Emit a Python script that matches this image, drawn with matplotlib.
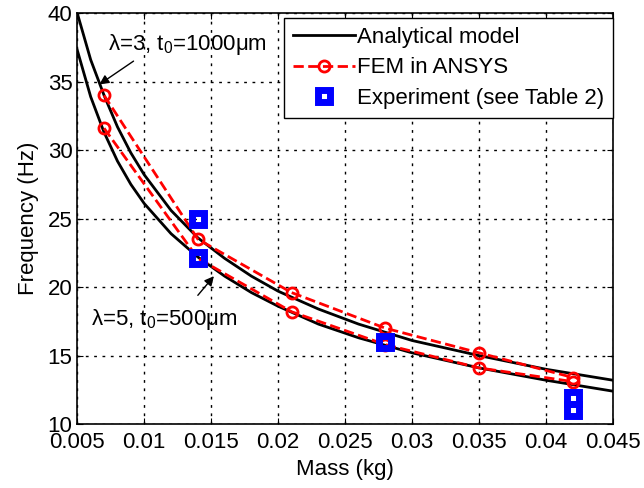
import matplotlib
matplotlib.use("Agg")
import matplotlib.pyplot as plt

plt.rcParams['font.family'] = ['Liberation Sans', 'DejaVu Sans']
plt.rcParams['mathtext.fontset'] = 'custom'
plt.rcParams['mathtext.rm'] = 'Liberation Sans'
plt.rcParams['mathtext.it'] = 'Liberation Sans'

# Analytical model curves (frequency vs. proof mass)
mass_model = [0.005, 0.006, 0.007, 0.008, 0.009, 0.010, 0.012, 0.014, 0.016,
              0.018, 0.020, 0.023, 0.026, 0.030, 0.035, 0.040, 0.045]
freq_model_l3 = [40.0, 36.6, 34.0, 31.7, 29.8, 28.2, 25.6, 23.6, 22.1,
                 20.8, 19.7, 18.4, 17.3, 16.1, 15.0, 14.0, 13.2]
freq_model_l5 = [37.3, 33.9, 31.3, 29.2, 27.5, 26.1, 23.9, 22.2, 20.8,
                 19.6, 18.6, 17.3, 16.3, 15.2, 14.1, 13.2, 12.4]

# FEM results
mass_fem = [0.007, 0.014, 0.021, 0.028, 0.035, 0.042]
freq_fem_l3 = [34.0, 23.5, 19.6, 17.0, 15.2, 13.4]
freq_fem_l5 = [31.6, 22.1, 18.2, 15.8, 14.1, 13.1]

# Experimental measurements
mass_exp = [0.014, 0.014, 0.028, 0.042, 0.042]
freq_exp = [25.0, 22.1, 16.0, 11.9, 11.0]

fs = 16

fig = plt.figure(figsize=(6.44, 4.88), dpi=100)
ax = fig.add_axes([0.12, 0.131, 0.832, 0.842])

ax.plot(mass_model, freq_model_l3, color='black', linewidth=2, label='Analytical model')
ax.plot(mass_model, freq_model_l5, color='black', linewidth=2)
ax.plot(mass_fem, freq_fem_l3, '--o', color='red', linewidth=2, markersize=8,
        markerfacecolor='none', markeredgewidth=2, label='FEM in ANSYS')
ax.plot(mass_fem, freq_fem_l5, '--o', color='red', linewidth=2, markersize=8,
        markerfacecolor='none', markeredgewidth=2)
ax.plot(mass_exp, freq_exp, 's', color='blue', markersize=8.5, markerfacecolor='none',
        markeredgewidth=5, linestyle='none', label='Experiment (see Table 2)')

# curve labels with pointer arrows
arrow = dict(arrowstyle='-|>', color='black', lw=1, shrinkA=0, shrinkB=0, mutation_scale=14)
ax.text(0.0073, 37.7, r'$\lambda$=3, t$_0$=1000$\mu$m', fontsize=fs, va='center')
ax.annotate('', xy=(0.00665, 34.8), xytext=(0.0092, 36.5), arrowprops=arrow)
ax.text(0.0060, 17.6, r'$\lambda$=5, t$_0$=500$\mu$m', fontsize=fs, va='center')
ax.annotate('', xy=(0.0152, 20.8), xytext=(0.0140, 19.4), arrowprops=arrow)

ax.set_xlim(0.005, 0.045)
ax.set_ylim(10, 40)
ax.set_xticks([0.005, 0.01, 0.015, 0.02, 0.025, 0.03, 0.035, 0.04, 0.045])
ax.set_xticklabels(['0.005', '0.01', '0.015', '0.02', '0.025', '0.03', '0.035', '0.04', '0.045'])
ax.set_yticks([10, 15, 20, 25, 30, 35, 40])
ax.tick_params(direction='in', labelsize=fs, top=True, right=True, length=4)
ax.tick_params(axis='x', pad=6)
ax.grid(True, linestyle=(0, (2, 4)), color='black', linewidth=1)
for s in ax.spines.values():
    s.set_linewidth(1.2)

ax.set_xlabel('Mass (kg)', fontsize=fs, labelpad=4)
ax.set_ylabel('Frequency (Hz)', fontsize=fs, labelpad=6)

ax.legend(loc='upper right', bbox_to_anchor=(0.999, 0.988), borderaxespad=0,
          fontsize=fs, fancybox=False, edgecolor='black', framealpha=1,
          handlelength=2.8, handletextpad=0.05, labelspacing=0.42, borderpad=0.4)

fig.savefig('out.png', dpi=100)
